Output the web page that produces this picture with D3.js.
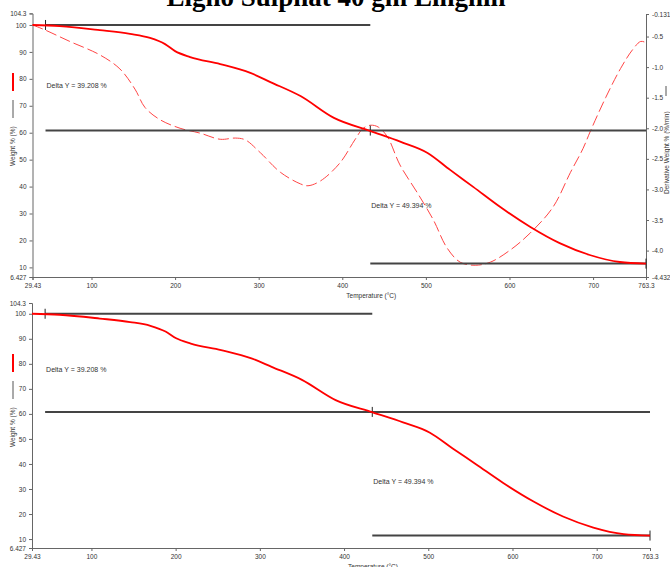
<!DOCTYPE html>
<html>
<head>
<meta charset="utf-8">
<script src="https://cdn.jsdelivr.net/npm/d3@7/dist/d3.min.js"></script>
<style>
  body { margin: 0; background: #fff; }
  svg { display: block; }
</style>
</head>
<body>
<div id="chart"></div>
<script>
// TGA weight loss curve (solid)
const tempC = [29.43, 62, 110, 146, 170, 188, 200, 218, 254, 290, 314, 350, 390, 434, 470, 502, 529, 557, 589, 625, 660, 696, 732, 763.3];
const weightPct = [100, 99.6, 98.1, 96.7, 95.2, 92.9, 90.3, 88.1, 85.5, 82.2, 78.8, 73.6, 65.5, 60.6, 56.6, 52.5, 46.2, 39.8, 32.4, 25, 19, 14.6, 12, 11.4];

// derivative weight curve (dashed, right axis)
const derivTemp = [29.43, 44, 74, 110, 134, 152, 164, 182, 206, 230, 254, 272, 284, 302, 326, 350, 359, 374, 397, 415, 425, 434, 443, 454, 469, 490, 509, 525, 541, 559, 577, 601, 625, 652, 673, 688, 697, 715, 733, 747, 757, 763.3];
const derivPct = [-0.31, -0.39, -0.58, -0.8, -1.03, -1.36, -1.66, -1.86, -2.0, -2.08, -2.18, -2.16, -2.19, -2.40, -2.72, -2.91, -2.94, -2.86, -2.57, -2.19, -2.0, -1.95, -1.98, -2.14, -2.6, -3.06, -3.5, -3.95, -4.19, -4.24, -4.19, -3.99, -3.71, -3.29, -2.72, -2.33, -2.04, -1.5, -1.02, -0.72, -0.58, -0.6];

const weightTicks = [6.427, 10, 20, 30, 40, 50, 60, 70, 80, 90, 100, 104.3];
const derivTicks = [-0.1315, -0.5, -1.0, -1.5, -2.0, -2.5, -3.0, -3.5, -4.0, -4.432];
const tempTicks = [29.43, 100, 200, 300, 400, 500, 600, 700, 763.3];

// step analysis markers
const stepTemps = [45, 433.5, 763.3];
const stepLevels = [100, 60.792, 11.398];
const deltaLabels = ['Delta Y = 39.208 %', 'Delta Y = 49.394 %'];

const W = 670, H = 567;
const svg = d3.select('#chart').append('svg').attr('width', W).attr('height', H);

svg.append('text')
  .attr('x', 336).attr('y', 6)
  .attr('text-anchor', 'middle')
  .style('font-family', '"Liberation Serif", "Times New Roman", serif')
  .style('font-weight', 'bold')
  .style('font-size', '27px')
  .text('Ligno Sulphat 40 gm Lingnin');

const tickFont = '"Liberation Sans", Arial, sans-serif';

function styleAxis(g) {
  g.select('.domain').attr('stroke', '#666');
  g.selectAll('.tick line').attr('stroke', '#666');
  g.selectAll('.tick text').attr('fill', '#333').style('font-family', tickFont).style('font-size', '6.5px');
}

function drawPanel(p) {
  const x = d3.scaleLinear().domain([29.43, 763.3]).range([p.left, p.right]);
  const y = d3.scaleLinear().domain([6.427, 104.3]).range([p.bottom, p.top]);

  // axes
  svg.append('g')
    .attr('transform', `translate(0,${p.bottom})`)
    .call(d3.axisBottom(x).tickValues(tempTicks).tickSize(3).tickPadding(3).tickFormat(d => String(d)))
    .call(styleAxis);
  svg.append('g')
    .attr('transform', `translate(${p.left},0)`)
    .call(d3.axisLeft(y).tickValues(weightTicks).tickSize(3).tickPadding(3).tickFormat(d => String(d)))
    .call(styleAxis);

  svg.append('text')
    .attr('x', (p.left + p.right) / 2 + 32).attr('y', p.bottom + 21)
    .attr('text-anchor', 'middle')
    .style('font-family', tickFont).style('font-size', '6.5px').attr('fill', '#333')
    .text('Temperature (°C)');

  // y axis title with legend swatches
  const ly = p.labelY;
  svg.append('line').attr('x1', 13).attr('x2', 13).attr('y1', ly - 49).attr('y2', ly - 31)
    .attr('stroke', '#ff0000').attr('stroke-width', 2);
  svg.append('line').attr('x1', 13).attr('x2', 13).attr('y1', ly - 22).attr('y2', ly - 4)
    .attr('stroke', '#555').attr('stroke-width', 1);
  svg.append('text')
    .attr('transform', `translate(15,${ly + 44}) rotate(-90)`)
    .style('font-family', tickFont).style('font-size', '6.5px').attr('fill', '#333')
    .text('Weight % (%)');

  if (p.deriv) {
    const yd = d3.scaleLinear().domain([-4.432, -0.1315]).range([p.bottom, p.top + 0.6]);
    svg.append('g')
      .attr('transform', `translate(${p.right},0)`)
      .call(d3.axisRight(yd).tickValues(derivTicks).tickSize(3).tickPadding(3)
        .tickFormat(d => (Math.abs(d * 2 - Math.round(d * 2)) < 1e-9 ? d.toFixed(1) : String(d))))
      .call(styleAxis);

    svg.append('line').attr('x1', 666).attr('x2', 666).attr('y1', 86).attr('y2', 96)
      .attr('stroke', '#555').attr('stroke-width', 1);
    svg.append('text')
      .attr('transform', 'translate(669,194) rotate(-90)')
      .style('font-family', tickFont).style('font-size', '6.5px').attr('fill', '#333')
      .text('Derivative Weight % (%/min)');

    const dline = d3.line().x(d => x(d[0])).y(d => yd(d[1])).curve(d3.curveCatmullRom);
    svg.append('path')
      .datum(d3.zip(derivTemp, derivPct))
      .attr('fill', 'none')
      .attr('stroke', '#ff4545')
      .attr('stroke-width', 1)
      .attr('stroke-dasharray', '11 4')
      .attr('d', dline);
  }

  // step lines
  const stepColor = '#444';
  const segs = [
    [stepTemps[0], stepTemps[1], stepLevels[0]],
    [stepTemps[0], stepTemps[2], stepLevels[1]],
    [stepTemps[1], stepTemps[2], stepLevels[2]]
  ];
  segs.forEach(s => {
    svg.append('line')
      .attr('x1', x(s[0])).attr('x2', x(s[1]))
      .attr('y1', y(s[2])).attr('y2', y(s[2]))
      .attr('stroke', stepColor).attr('stroke-width', 2);
  });
  stepTemps.forEach((t, i) => {
    svg.append('line')
      .attr('x1', x(t)).attr('x2', x(t))
      .attr('y1', y(stepLevels[i]) - 5).attr('y2', y(stepLevels[i]) + 5)
      .attr('stroke', '#222').attr('stroke-width', 1);
  });

  // weight curve
  const wline = d3.line().x(d => x(d[0])).y(d => y(d[1])).curve(d3.curveMonotoneX);
  svg.append('path')
    .datum(d3.zip(tempC, weightPct))
    .attr('fill', 'none')
    .attr('stroke', '#ff0000')
    .attr('stroke-width', 1.8)
    .attr('d', wline);

  // delta labels
  svg.append('text')
    .attr('x', x(stepTemps[0]) + 1).attr('y', p.delta1Y)
    .style('font-family', tickFont).style('font-size', '7px').attr('fill', '#333')
    .text(deltaLabels[0]);
  svg.append('text')
    .attr('x', x(stepTemps[1]) + 1).attr('y', p.delta2Y)
    .style('font-family', tickFont).style('font-size', '7px').attr('fill', '#333')
    .text(deltaLabels[1]);
}

drawPanel({ left: 32.5, right: 646, top: 13.4, bottom: 277, labelY: 122, delta1Y: 88, delta2Y: 208, deriv: true });
drawPanel({ left: 32, right: 650, top: 303, bottom: 548, labelY: 403, delta1Y: 372, delta2Y: 484, deriv: false });
</script>
</body>
</html>
